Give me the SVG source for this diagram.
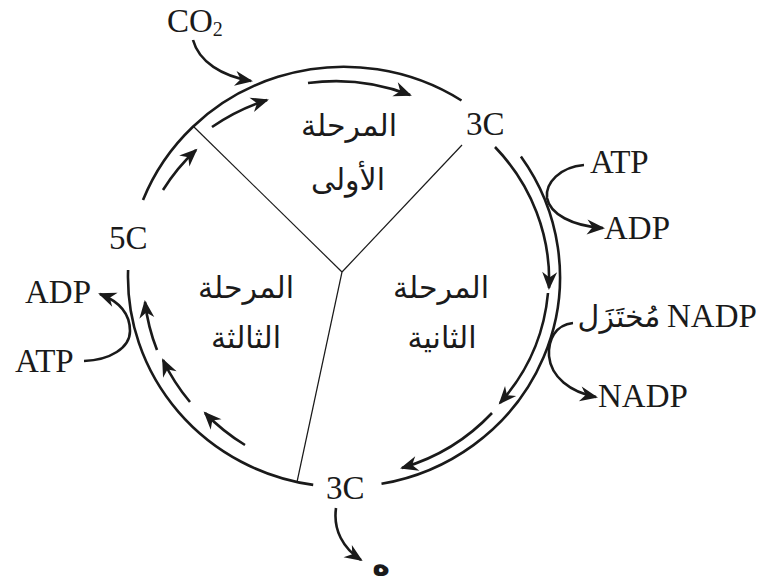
<svg xmlns="http://www.w3.org/2000/svg" width="766" height="588" viewBox="0 0 766 588">
  <style>
    .ring { fill: none; stroke: #1a1a1a; stroke-width: 2.6; }
    .flow { fill: none; stroke: #1a1a1a; stroke-width: 2.6; marker-end: url(#head); }
    .divider { fill: none; stroke: #1a1a1a; stroke-width: 1.2; }
    .lbl { font-family: "Liberation Serif", "Times New Roman", serif; font-size: 33px; fill: #1a1a1a; }
    .ar { font-family: "DejaVu Sans", sans-serif; font-size: 30px; fill: #1a1a1a; text-anchor: middle; }
  </style>
  <defs>
    <marker id="head" markerUnits="userSpaceOnUse" viewBox="-18 -9 20 18" refX="-1" refY="0" markerWidth="20" markerHeight="18" orient="auto">
      <path d="M1,0 L-17,-7.5 L-11.5,0 L-17,7.5 Z" fill="#1a1a1a"/>
    </marker>
  </defs>

  <rect width="766" height="588" fill="#ffffff"/>

  <!-- outer ring, broken at the three carbon labels -->
  <g id="ring">
    <path class="ring" d="M143,200 A216,210 0 0 1 461.5,100.5"/>
    <path class="ring" d="M520.9,156.5 A216,210 0 0 1 381.5,483.8"/>
    <path class="ring" d="M313.2,484.9 A216,210 0 0 1 128.1,270"/>
  </g>

  <!-- sector dividers -->
  <g id="dividers">
    <path class="divider" d="M342,272 L193,126"/>
    <path class="divider" d="M342,272 L462,145"/>
    <path class="divider" d="M342,272 L297,482"/>
  </g>

  <!-- connectors -->
  <g id="connectors">
    <!-- cycle direction arrows inside the ring -->
    <path class="flow" d="M308,83 A201,195 0 0 1 410,95"/>
    <path class="flow" d="M212,127 A201,195 0 0 1 267,100"/>
    <path class="flow" d="M163,190 A201,195 0 0 1 196,150"/>
    <path class="flow" d="M157,350 A201,195 0 0 1 145,302"/>
    <path class="flow" d="M190,402 A201,195 0 0 1 163,360"/>
    <path class="flow" d="M245,445 A201,195 0 0 1 205,413"/>
    <path class="flow" d="M495,147 A201,195 0 0 1 549,288"/>
    <path class="flow" d="M548,293 A201,195 0 0 1 500,403"/>
    <path class="flow" d="M492,413 A201,195 0 0 1 402,468"/>
    <!-- inputs and outputs -->
    <path class="flow" d="M193,40 C199,62 222,76 251,81"/>
    <path class="flow" d="M584,165 C560,167 545,183 547,198 C550,214 572,226 603,228"/>
    <path class="flow" d="M573,323 C555,325 548,340 549,356 C551,377 570,392 596,397"/>
    <path class="flow" d="M336,508 C333,530 343,548 361,560"/>
    <path class="flow" d="M84,361 C110,360 130,348 130,331 C130,313 118,301 100,294"/>
  </g>

  <!-- stage labels -->
  <g id="stage-1">
    <text class="ar" x="349" y="136">المرحلة</text>
    <text class="ar" x="348" y="190">الأولى</text>
  </g>
  <g id="stage-2">
    <text class="ar" x="441" y="298">المرحلة</text>
    <text class="ar" x="442" y="348">الثانية</text>
  </g>
  <g id="stage-3">
    <text class="ar" x="246" y="298">المرحلة</text>
    <text class="ar" x="246" y="348">الثالثة</text>
  </g>

  <!-- carbon compounds -->
  <g id="c3-top"><text class="lbl" x="466" y="135">3C</text></g>
  <g id="c3-bottom"><text class="lbl" x="326" y="499">3C</text></g>
  <g id="c5"><text class="lbl" x="109" y="249">5C</text></g>

  <!-- inputs / outputs -->
  <g id="co2"><text class="lbl" x="167" y="32">CO<tspan font-size="20" dy="4">2</tspan></text></g>
  <g id="atp-right"><text class="lbl" x="590" y="173">ATP</text></g>
  <g id="adp-right"><text class="lbl" x="604" y="239">ADP</text></g>
  <g id="nadph">
    <text class="lbl" x="667" y="327">NADP</text>
    <text class="ar" x="619" y="327">مُختَزَل</text>
  </g>
  <g id="nadp"><text class="lbl" x="598" y="407">NADP</text></g>
  <g id="adp-left"><text class="lbl" x="25" y="303">ADP</text></g>
  <g id="atp-left"><text class="lbl" x="15" y="372">ATP</text></g>
  <g id="product"><text class="ar" x="381" y="575" font-size="38" font-weight="bold">ه</text></g>
</svg>
